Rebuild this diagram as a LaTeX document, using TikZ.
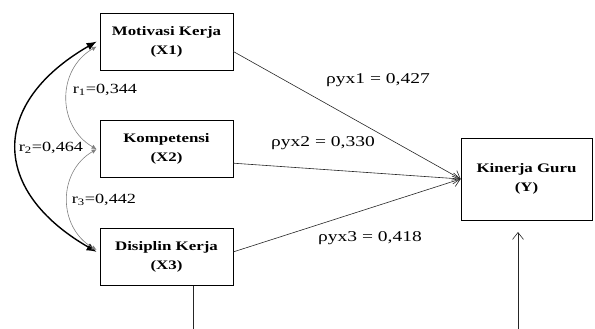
\documentclass[tikz,border=0pt]{standalone}
\usepackage{fontspec}
\setmainfont{Liberation Serif}[FakeStretch=1.3]
\usetikzlibrary{arrows.meta, positioning}
\tikzset{
  varbox/.style={rectangle, draw, line width=0.7pt, minimum width=133pt, minimum height=57pt, align=center, font=\fontsize{13}{19}\selectfont\bfseries},
  pathlbl/.style={font=\fontsize{15}{18}\selectfont},
  corlbl/.style={font=\fontsize{14}{17}\selectfont, inner sep=0pt},
  parr/.style={-{Straight Barb[length=7pt, width=11pt]}, line width=0.6pt, black!85},
  corarr/.style={{Latex[length=5pt, width=4.5pt]}-{Latex[length=5pt, width=4.5pt]}, black!50, line width=0.6pt},
  corbig/.style={{Latex[length=10pt, width=8pt]}-{Latex[length=10pt, width=8pt]}, line width=1.4pt},
}
\begin{document}
\begin{tikzpicture}[x=1pt, y=1pt]
  \useasboundingbox (0,0) rectangle (595,329);

  % Variables
  \node[varbox] (x1) at (166.5,287.5) {Motivasi Kerja\\(X1)};
  \node[varbox, below=50pt of x1] (x2) {Kompetensi\\(X2)};
  \node[varbox, below=50pt of x2] (x3) {Disiplin Kerja\\(X3)};
  \node[varbox, minimum width=131pt, minimum height=82pt] (y) at (526.5,150) {Kinerja Guru\\(Y)};

  % Path coefficients
  \draw[parr] ([yshift=-10pt]x1.east) -- (y.west);
  \draw[parr] ([yshift=-14pt]x2.east) -- (y.west);
  \draw[parr] ([yshift=5pt]x3.east) -- (y.west);
  \node[pathlbl] (p1) at (378,249) {ρyx1 = 0,427};
  \node[pathlbl] (p2) at (323,186) {ρyx2 = 0,330};
  \node[pathlbl] (p3) at (370,91) {ρyx3 = 0,418};

  % Correlations
  \draw[corbig] ([xshift=-3pt]x1.west) to[out=210, in=150, looseness=1.5] ([xshift=-3pt, yshift=5pt]x3.west);
  \draw[corarr] ([xshift=-3pt, yshift=-5pt]x1.west) to[out=210, in=150, looseness=1.15] ([xshift=-3pt]x2.west);
  \draw[corarr] ([xshift=-3pt]x2.west) to[out=210, in=150, looseness=1.15] ([xshift=-3pt, yshift=7pt]x3.west);
  \node[corlbl] (r1) at (105,239) {r\textsubscript{1}=0,344};
  \node[corlbl] (r2) at (51,181) {r\textsubscript{2}=0,464};
  \node[corlbl] (r3) at (104,129) {r\textsubscript{3}=0,442};

  % Residuals
  \coordinate (e3) at (193,0);
  \draw[line width=0.6pt, black!85] (x3.south -| e3) -- (e3);
  \coordinate (e4) at (518,0);
  \coordinate (t4) at (518,97);
  \draw[parr] (e4) -- (t4);
\end{tikzpicture}
\end{document}
